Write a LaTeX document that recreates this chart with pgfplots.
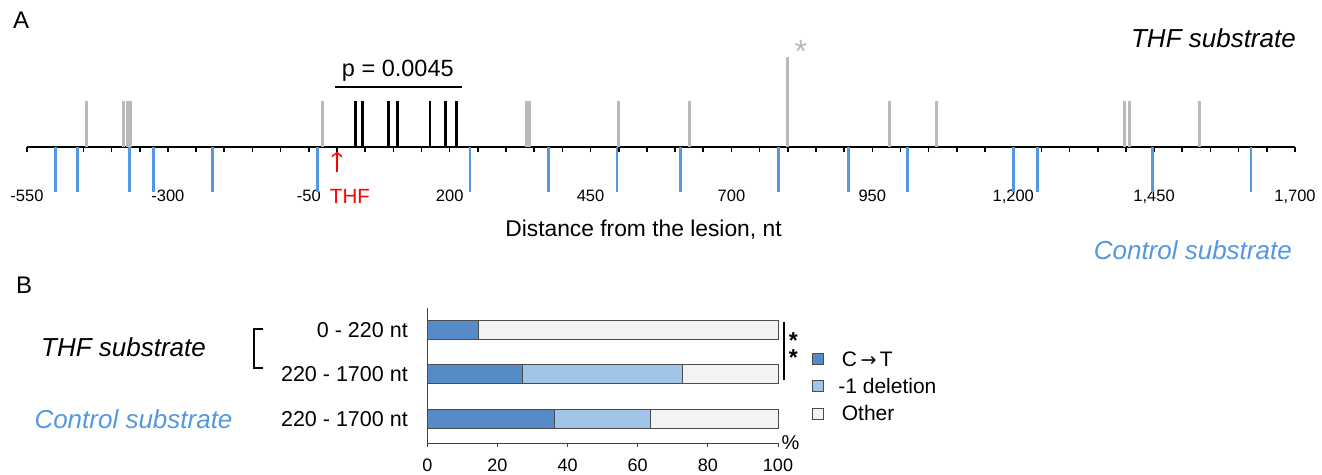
\documentclass[border=0pt]{standalone}
\usepackage{fontspec}
\setmainfont{Liberation Sans}
\newfontfamily\dejavu{DejaVu Sans}
\usepackage{pgfplots}
\pgfplotsset{compat=1.18}
\usetikzlibrary{arrows.meta}
\definecolor{gline}{RGB}{185,185,185}
\definecolor{bline}{RGB}{84,152,224}
\definecolor{ctdark}{RGB}{86,139,200}
\definecolor{dellight}{RGB}{160,197,233}
\definecolor{othergray}{RGB}{243,243,243}
\definecolor{ctrltext}{RGB}{84,152,224}
\pgfplotsset{sq legend/.style={legend image code/.code={\draw[##1, line width=1pt] (0pt,-5.5pt) rectangle (11pt,5.5pt); \path[draw=none, fill=none] (0pt,0pt) -- (24pt,0pt);}}}
\begin{document}
\begin{tikzpicture}
\useasboundingbox (0,0) rectangle (1322pt,-474pt);
% ---------- Panel A ----------
\node[anchor=base west, font=\fontsize{24}{26}\selectfont, inner sep=0pt] at (13pt,-28pt) {A};
\node[anchor=base east, font=\fontsize{26}{28}\selectfont\itshape, inner sep=0pt] at (1296pt,-47pt) {THF substrate};
\node[anchor=base east, font=\fontsize{26}{28}\selectfont\itshape, text=ctrltext, inner sep=0pt] at (1292pt,-259pt) {Control substrate};
\node[anchor=base, font=\fontsize{22.8}{25}\selectfont, inner sep=0pt] at (643.5pt,-236pt) {Distance from the lesion, nt};
\begin{axis}[
  scale only axis, width=1268pt, height=151.8pt,
  at={(27pt,-193pt)}, anchor=south west,
  xmin=-550, xmax=1700, ymin=-1, ymax=2.3,
  axis x line=middle, axis y line=none,
  axis line style={-, line width=1.6pt, black},
  xtick={-550,-300,...,1700},
  xticklabels={-550,-300,-50,200,450,700,950,{1,200},{1,450},{1,700}},
  minor xtick={-500,-450,...,1650},
  tick align=outside,
  major tick length=5pt, minor tick length=5pt,
  every tick/.style={line width=1.6pt, black},
  xticklabel style={font=\fontsize{16.5}{18}\selectfont, yshift=-34pt},
  clip=false,
]
\addplot[ycomb, gline, line width=3pt] coordinates {
(-444,1) (-379,1) (-371,1) (-367,1) (-25,1) (337,1) (341,1) (499,1) (626,1)
(799,1.96) (981,1) (1064,1) (1398,1) (1406,1) (1530,1)};
\addplot[ycomb, black, line width=2.8pt] coordinates {
(33,1) (45,1) (91,1) (108,1) (165,1) (193,1) (212,1)};
\addplot[ycomb, bline, line width=2.8pt] coordinates {
(-499,-0.98) (-460,-0.98) (-368,-0.98) (-326,-0.98) (-221,-0.98) (-34,-0.98)
(236,-0.98) (375,-0.98) (497,-0.98) (610,-0.98) (784,-0.98) (907,-0.98)
(1013,-0.98) (1201,-0.98) (1243,-0.98) (1447,-0.98) (1622,-0.98)};
\draw[line width=1.6pt] (axis cs:-3,1.3) -- (axis cs:222,1.3);
\node[anchor=base, font=\fontsize{23.5}{26}\selectfont, inner sep=0pt] at (axis cs:108,1.54) {p = 0.0045};
\node[anchor=base, text=gline, font=\fontsize{32}{34}\selectfont, inner sep=0pt] at (axis cs:823,1.84) {*};
\draw[red, line width=1.5pt, -{Straight Barb[length=4pt,width=10pt]}] (axis cs:0,-0.54) -- (axis cs:0,-0.1);
\node[red, anchor=base, font=\fontsize{20.5}{22}\selectfont, inner sep=0pt] at (axis cs:23,-1.22) {THF};
\end{axis}
% ---------- Panel B ----------
\node[anchor=base west, font=\fontsize{24}{26}\selectfont, inner sep=0pt] at (16pt,-293pt) {B};
\node[anchor=base, font=\fontsize{26}{28}\selectfont\itshape, inner sep=0pt] at (123.5pt,-356pt) {THF substrate};
\node[anchor=base, font=\fontsize{26}{28}\selectfont\itshape, text=ctrltext, inner sep=0pt] at (133.5pt,-428pt) {Control substrate};
\draw[line width=2.4pt] (263pt,-329pt) -- (254pt,-329pt) -- (254pt,-368pt) -- (263pt,-368pt);
\begin{axis}[
  scale only axis, width=350.7pt, height=135pt,
  at={(427.3pt,-443pt)}, anchor=south west,
  xbar stacked, bar width=19pt,
  xmin=0, xmax=100, ymin=-0.485, ymax=2.535, y dir=reverse,
  axis x line=bottom, axis y line=left,
  axis line style={-, line width=1pt, black!75},
  xtick={0,20,...,100},
  ytick={0,1,2},
  yticklabels={0 - 220 nt, 220 - 1700 nt, 220 - 1700 nt},
  ytick style={draw=none},
  xtick style={line width=1pt, black!75},
  tick align=outside, major tick length=4pt,
  /pgf/number format/assume math mode=true,
  xticklabel style={font=\fontsize{18}{20}\selectfont, yshift=-8pt},
  yticklabel style={font=\fontsize{21.5}{23}\selectfont, xshift=-12pt},
  clip=false,
  legend style={at={(1.096,0.695)}, anchor=north west, draw=none, fill=none,
    font=\fontsize{21}{23}\selectfont, row sep=6.5pt, inner sep=0pt},
  legend cell align=left,
]
\addplot[fill=ctdark, draw=black!70, line width=1pt, sq legend] coordinates {(14.5,0) (27.2,1) (36.4,2)};
\addplot[fill=dellight, draw=black!70, line width=1pt, sq legend] coordinates {(0,0) (45.5,1) (27.3,2)};
\addplot[fill=othergray, draw=black!70, line width=1pt, sq legend] coordinates {(85.5,0) (27.3,1) (36.3,2)};
\legend{\,C\,{\dejavu\fontsize{19}{20}\selectfont →}\,T, -1 deletion, \,Other}
\draw[line width=2.2pt] (axis cs:101.6,-0.17) -- (axis cs:101.6,1.125);
\node[align=center, font=\fontsize{23}{17}\selectfont\bfseries, inner sep=0pt, anchor=north] at (axis cs:104.4,0.06) {*\\*};
\node[anchor=base, font=\fontsize{20}{22}\selectfont, inner sep=0pt] at (axis cs:103.6,2.68) {\%};
\end{axis}
\end{tikzpicture}
\end{document}
